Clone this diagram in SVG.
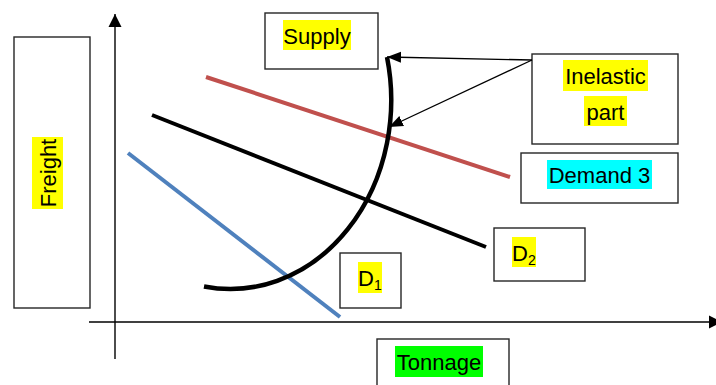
<svg xmlns="http://www.w3.org/2000/svg" width="716" height="385" viewBox="0 0 716 385">
  <style>
    .box { fill: #ffffff; stroke: #262626; stroke-width: 1.4; }
    .lbl { font-family: "Liberation Sans", Arial, sans-serif; font-size: 22px; fill: #000000; }
    .sub { font-size: 14px; }
    .hl-y { fill: #ffff00; }
    .hl-c { fill: #00ffff; }
    .hl-g { fill: #00ff00; }
    .axis { stroke: #000000; stroke-width: 1.4; fill: none; }
    .pointer { stroke: #000000; stroke-width: 1.3; fill: none; }
  </style>
  <defs>
    <marker id="axisHead" markerUnits="userSpaceOnUse" markerWidth="14" markerHeight="14" viewBox="0 0 14 14" refX="13" refY="7" orient="auto">
      <path d="M0,0.5 L13,7 L0,13.5 Z" fill="#000000"/>
    </marker>
    <marker id="pointerHead" markerUnits="userSpaceOnUse" markerWidth="14" markerHeight="12" viewBox="0 0 14 12" refX="14" refY="6" orient="auto">
      <path d="M0,0.5 L14,6 L0,11.5 Z" fill="#000000"/>
    </marker>
  </defs>

  <!-- axes -->
  <g id="axes">
    <line class="axis" x1="115" y1="359" x2="115" y2="14" marker-end="url(#axisHead)"/>
    <line class="axis" x1="89" y1="322" x2="722" y2="322" marker-end="url(#axisHead)"/>
  </g>

  <!-- demand and supply curves -->
  <g id="curves">
    <line x1="206" y1="77" x2="510" y2="177" stroke="#c0504d" stroke-width="4"/>
    <line x1="152" y1="115" x2="486" y2="247" stroke="#000000" stroke-width="4"/>
    <line x1="128" y1="153" x2="340" y2="317" stroke="#4f81bd" stroke-width="4"/>
    <path d="M204,286.5 A161,189 0 0 0 387,57" fill="none" stroke="#000000" stroke-width="4.5"/>
  </g>

  <!-- axis labels -->
  <g id="freight">
    <rect class="box" x="14" y="37" width="76" height="271"/>
    <g transform="translate(56,173) rotate(-90)">
      <rect class="hl-y" x="-36" y="-24" width="72" height="31"/>
      <text class="lbl" x="0" y="0" text-anchor="middle">Freight</text>
    </g>
  </g>

  <g id="tonnage">
    <rect class="box" x="377" y="339" width="132" height="60"/>
    <rect class="hl-g" x="395" y="346" width="88" height="31"/>
    <text class="lbl" x="439" y="370" text-anchor="middle">Tonnage</text>
  </g>

  <!-- curve labels -->
  <g id="supply">
    <rect class="box" x="265" y="13" width="113" height="56"/>
    <rect class="hl-y" x="283" y="20" width="68" height="30"/>
    <text class="lbl" x="317" y="44" text-anchor="middle">Supply</text>
  </g>

  <g id="inelastic">
    <rect class="box" x="532" y="54" width="146" height="90"/>
    <rect class="hl-y" x="563" y="60" width="85" height="31"/>
    <text class="lbl" x="605.5" y="84" text-anchor="middle">Inelastic</text>
    <rect class="hl-y" x="584" y="96" width="43" height="30"/>
    <text class="lbl" x="605.5" y="120" text-anchor="middle">part</text>
  </g>

  <g id="demand3">
    <rect class="box" x="521" y="153" width="157" height="50"/>
    <rect class="hl-c" x="547" y="160" width="105" height="29"/>
    <text class="lbl" x="599.5" y="183" text-anchor="middle">Demand 3</text>
  </g>

  <g id="d2">
    <rect class="box" x="494" y="228" width="91" height="53"/>
    <rect class="hl-y" x="512" y="237" width="24" height="30"/>
    <text class="lbl" x="512" y="261">D<tspan class="sub" dy="4">2</tspan></text>
  </g>

  <g id="d1">
    <rect class="box" x="340" y="253" width="61" height="55"/>
    <rect class="hl-y" x="358" y="262" width="24" height="31"/>
    <text class="lbl" x="358" y="286">D<tspan class="sub" dy="4">1</tspan></text>
  </g>

  <!-- pointers from the inelastic label to the steep part of supply -->
  <g id="connectors">
    <line class="pointer" x1="532" y1="60" x2="387" y2="57" marker-end="url(#pointerHead)"/>
    <line class="pointer" x1="532" y1="60" x2="389" y2="127" marker-end="url(#pointerHead)"/>
  </g>
</svg>
